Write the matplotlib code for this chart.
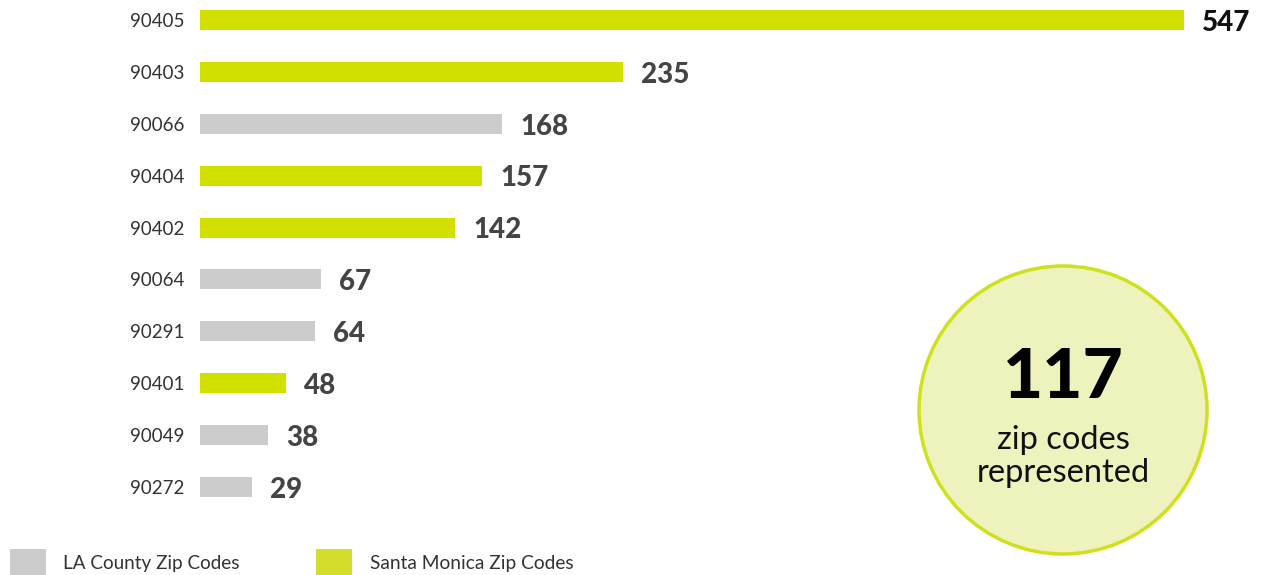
import matplotlib
matplotlib.use("Agg")
import matplotlib.pyplot as plt
from matplotlib.patches import Circle, Rectangle

zip_codes = ["90405", "90403", "90066", "90404", "90402", "90064", "90291", "90401", "90049", "90272"]
counts = [547, 235, 168, 157, 142, 67, 64, 48, 38, 29]
is_santa_monica = [True, True, False, True, True, False, False, True, False, False]
total_zip_codes = 117
legend_labels = ["LA County Zip Codes", "Santa Monica Zip Codes"]

GREEN = "#d2e000"
GRAY = "#cccccc"
FONT = "Lato"

W, H = 1266, 575
fig = plt.figure(figsize=(W / 100, H / 100), dpi=100)
fig.patch.set_facecolor("white")

# axes placed in pixel terms: x from 200 to 1184 spans 0..max count
row = 51.9
top_px = 20 - row / 2
bot_px = 487 + row / 2
ax = fig.add_axes([200 / W, 1 - bot_px / H, 984 / W, (bot_px - top_px) / H])
ax.set_xlim(0, max(counts))
ax.set_ylim(len(counts) - 0.5, -0.5)

ypos = list(range(len(counts)))
colors = [GREEN if sm else GRAY for sm in is_santa_monica]
ax.barh(ypos, counts, height=0.385, color=colors, edgecolor="none")

for y, v in zip(ypos, counts):
    ax.annotate(str(v), xy=(v, y), xytext=(13, -2), textcoords="offset points",
                ha="left", va="center", fontsize=20, fontweight="black",
                family=FONT, color="#111111" if v == max(counts) else "#444444",
                annotation_clip=False)

ax.set_yticks(ypos)
ax.set_yticklabels(zip_codes, family=FONT, fontsize=13.5, color="#333333")
ax.tick_params(axis="y", length=0, pad=11)
ax.set_xticks([])
for s in ax.spines.values():
    s.set_visible(False)
ax.set_facecolor("none")

# summary badge
bx = fig.add_axes([0, 0, 1, 1], facecolor="none")
bx.set_xlim(0, W)
bx.set_ylim(H, 0)
bx.axis("off")
bx.add_patch(Circle((1063, 410), 144, facecolor="#eef3bd", edgecolor="#cfe01c", linewidth=2.5))
bx.text(1063, 379, str(total_zip_codes), ha="center", va="center", fontsize=50,
        fontweight="black", family=FONT, color="black")
bx.text(1063, 440, "zip codes", ha="center", va="center", fontsize=23.5,
        family=FONT, color="#111111")
bx.text(1063, 473, "represented", ha="center", va="center", fontsize=23.5,
        family=FONT, color="#111111")

# legend along the bottom edge
bx.add_patch(Rectangle((10, 549), 36, 30, facecolor=GRAY, edgecolor="none"))
bx.text(63, 563, legend_labels[0], ha="left", va="center", fontsize=13.6,
        family=FONT, color="#333333")
bx.add_patch(Rectangle((316, 549), 36, 30, facecolor="#d4dc2c", edgecolor="none"))
bx.text(370, 563, legend_labels[1], ha="left", va="center", fontsize=13.8,
        family=FONT, color="#333333")

fig.savefig("out.png", dpi=100)
